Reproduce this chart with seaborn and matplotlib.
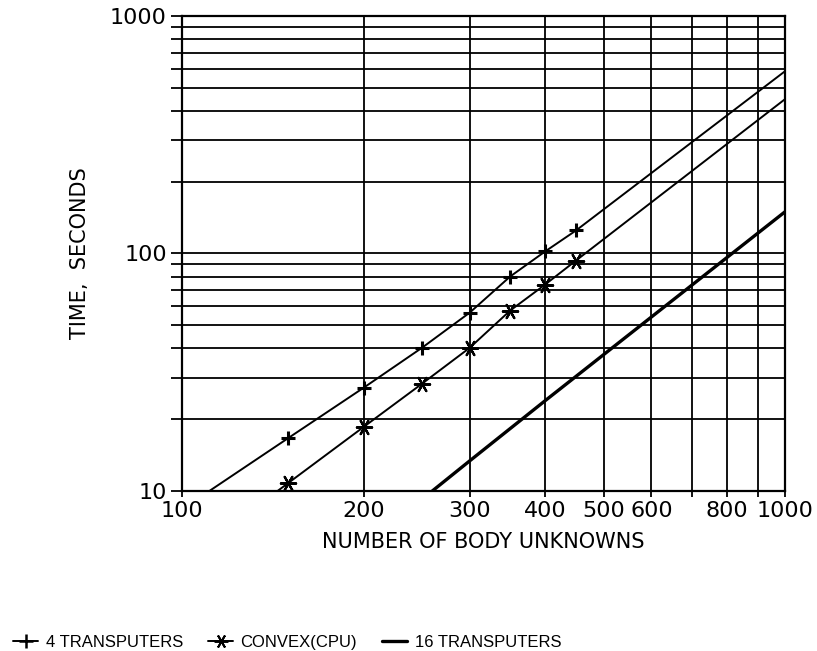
import numpy as np
import pandas as pd
import seaborn as sns
import matplotlib.pyplot as plt
from matplotlib.lines import Line2D

# Measured points (markers)
unknowns = [150, 200, 250, 300, 350, 400, 450]
time_4t = [16.7, 27.2, 40.1, 56.4, 80, 102, 125]
time_convex = [10.8, 18.6, 28.3, 40.1, 57.5, 74, 93.4]

# Curves as drawn (extended to the frame)
line_4t_x = [111, 150, 200, 250, 300, 350, 400, 450, 1000]
line_4t_y = [10, 16.7, 27.2, 40.1, 56.4, 80, 102, 125, 586]
line_convex_x = [144, 150, 200, 250, 300, 350, 400, 450, 1000]
line_convex_y = [10, 10.8, 18.6, 28.3, 40.1, 57.5, 74, 93.4, 447]
line_16t_x = [260, 300, 400, 600, 1000]
line_16t_y = [10, 13.4, 24.0, 54, 150]

x_ticks = [100, 200, 300, 400, 500, 600, 700, 800, 900, 1000]
x_tick_labels = ['100', '200', '300', '400', '500', '600', '', '800', '', '1000']
y_major = [10, 100, 1000]
y_minor = [20, 30, 40, 50, 60, 70, 80, 90, 200, 300, 400, 500, 600, 700, 800, 900]

sns.set_style('white')
plt.rcParams['font.family'] = ['DejaVu Sans']
plt.rcParams['text.color'] = 'black'
plt.rcParams['axes.labelcolor'] = 'black'

fig = plt.figure(figsize=(8.17, 6.51), dpi=100)
ax = fig.add_axes([0.2228, 0.2458, 0.7382, 0.7296])

sns.lineplot(x=line_4t_x, y=line_4t_y, ax=ax, color='black', lw=1.4, estimator=None, sort=False)
sns.lineplot(x=line_convex_x, y=line_convex_y, ax=ax, color='black', lw=1.4, estimator=None, sort=False)
sns.lineplot(x=line_16t_x, y=line_16t_y, ax=ax, color='black', lw=2.4, estimator=None, sort=False)

sns.scatterplot(x=unknowns, y=time_4t, ax=ax, marker='+', s=100, color='black', linewidth=2.2, zorder=5)
sns.scatterplot(x=unknowns, y=time_convex, ax=ax, marker=(6, 2, 90), s=120, color='black', linewidth=1.6, zorder=5)

ax.set_xscale('log')
ax.set_yscale('log')
ax.set_xlim(100, 1000)
ax.set_ylim(10, 1000)

ax.set_xticks(x_ticks)
ax.set_xticklabels(x_tick_labels)
ax.xaxis.set_minor_locator(plt.NullLocator())
ax.set_yticks(y_major)
ax.set_yticklabels([str(v) for v in y_major])
ax.set_yticks(y_minor, minor=True)
ax.yaxis.set_minor_formatter(plt.NullFormatter())

ax.grid(which='both', color='black', lw=1.3)
ax.tick_params(axis='y', which='both', left=True, direction='out', length=8, width=1.3,
               colors='black', labelsize=16, pad=3)
ax.tick_params(axis='x', which='both', bottom=True, direction='out', length=4, width=1.3,
               colors='black', labelsize=16, pad=3)
for sp in ax.spines.values():
    sp.set_color('black')
    sp.set_linewidth(1.6)

ax.set_xlabel('NUMBER OF BODY UNKNOWNS', fontsize=15, labelpad=8)
ax.set_ylabel('TIME,  SECONDS', fontsize=15, labelpad=14)

handles = [
    Line2D([], [], color='black', lw=1.4, marker='+', markersize=10, mew=1.8),
    Line2D([], [], color='black', lw=1.4, marker=(6, 2, 90), markersize=10, mew=1.4),
    Line2D([], [], color='black', lw=2.4),
]
labels = ['4 TRANSPUTERS', 'CONVEX(CPU)', '16 TRANSPUTERS']
fig.legend(handles, labels, loc='lower left', bbox_to_anchor=(-0.002, -0.022), ncol=3, frameon=False,
           prop={'family': ['Liberation Sans', 'DejaVu Sans'], 'size': 12},
           handlelength=1.5, handletextpad=0.45, columnspacing=1.5)

fig.savefig('out.png', dpi=100)
